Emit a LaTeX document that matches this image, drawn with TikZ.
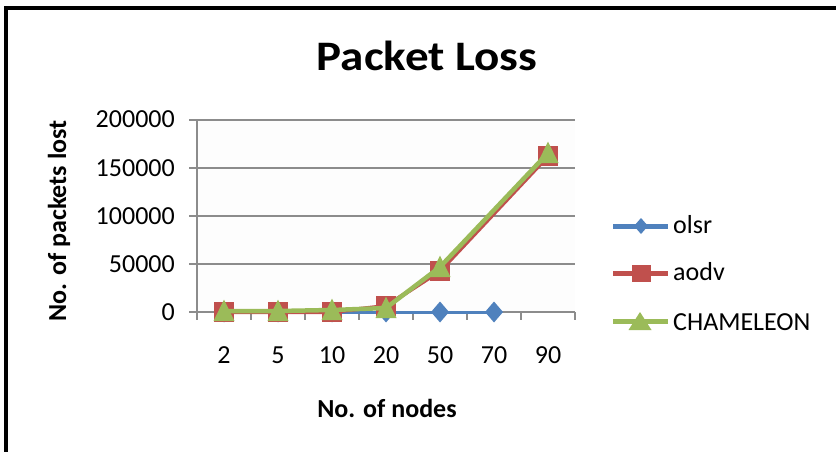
\documentclass[tikz,border=0pt]{standalone}
\usepackage{fontspec}
\usepackage{graphicx}
\setmainfont{Carlito}
\definecolor{olsrc}{HTML}{4F81BD}
\definecolor{aodvc}{HTML}{C0504D}
\definecolor{chamc}{HTML}{9BBB59}
\definecolor{gridc}{HTML}{8C8C8C}
\definecolor{plotbg}{HTML}{FDFDFD}
\begin{document}
\begin{tikzpicture}[x=1pt,y=-1pt,
  frameline/.style={line width=3.5pt,black},
  gridline/.style={gridc,line width=1.2pt},
  axisline/.style={gridc,line width=1.2pt},
  ticklab/.style={font=\fontsize{26}{30}\selectfont,inner sep=0pt},
  axtitle/.style={font=\fontsize{26}{30}\selectfont\bfseries,inner sep=0pt},
  titlestyle/.style={font=\fontsize{42}{50}\selectfont\bfseries,inner sep=0pt},
  olsrline/.style={olsrc,line width=3pt,line join=round},
  aodvline/.style={aodvc,line width=4pt,line join=round},
  chamline/.style={chamc,line width=4.5pt,line join=round},
  legline/.style={line width=5pt},
  dia/.pic={\fill[olsrc] (0,-10.5) -- (9,0) -- (0,10.5) -- (-9,0) -- cycle;},
  sqr/.pic={\fill[aodvc] (-10,-10) rectangle (10,10);},
  tri/.pic={\fill[chamc] (0,-11.5) -- (10.5,10) -- (-10.5,10) -- cycle;},
  ldia/.pic={\fill[olsrc] (0,-8) -- (7,0) -- (0,8) -- (-7,0) -- cycle;},
  lsqr/.pic={\fill[aodvc] (-9.5,-8.5) rectangle (9.5,8.5);},
  ltri/.pic={\fill[chamc] (0,-9) -- (11.5,9) -- (-11.5,9) -- cycle;}
]
\useasboundingbox (0,0) rectangle (836,452);
\fill[white] (0,0) rectangle (836,452);
% frame
\draw[frameline] (6,452) -- (6,8) -- (836,8);

% title
\node[titlestyle,anchor=base] (title) at (427,71) {\scalebox{1.12}[1]{Packet Loss}};

% plot area
\fill[plotbg] (197,120) rectangle (575,312);
\foreach \y in {120,168,216,264} \draw[gridline] (189,\y) -- (575,\y);
\draw[axisline] (197,120) -- (197,312);
\draw[axisline] (189,312) -- (575,312);
\foreach \x in {197,251,...,575} \draw[axisline] (\x,312) -- (\x,320);

% y tick labels
\foreach \v/\y in {0/312,50000/264,100000/216,150000/168,200000/120}
  \node[ticklab,anchor=base east] (yl\v) at (175,\y+8) {\v};

% x tick labels
\foreach \c/\x in {2/224,5/278,10/332,20/386,50/440,70/494,90/548}
  \node[ticklab,anchor=base] (xl\c) at (\x,363) {\c};

% axis titles
\node[axtitle,anchor=base] (xtitle) at (387,417) {No. of nodes};
\node[axtitle,anchor=base,rotate=90] (ytitle) at (66,221) {No. of packets lost};

% data coordinates
\coordinate (o1) at (224,312); \coordinate (o2) at (278,312);
\coordinate (o3) at (332,312); \coordinate (o4) at (386,312);
\coordinate (o5) at (440,312); \coordinate (o6) at (494,312);

\coordinate (a1) at (224,312); \coordinate (a2) at (278,312);
\coordinate (a3) at (332,312); \coordinate (a4) at (386,306);
\coordinate (a5) at (440,271); \coordinate (a7) at (548,156);

\coordinate (c1) at (224,311); \coordinate (c2) at (278,311);
\coordinate (c3) at (332,310); \coordinate (c4) at (386,308);
\coordinate (c5) at (440,267); \coordinate (c7) at (548,153);

% olsr
\draw[olsrline] (o1) -- (o2) -- (o3) -- (o4) -- (o5) -- (o6);
\foreach \p in {o1,o2,o3,o4,o5,o6} \pic at (\p) {dia};
% aodv
\draw[aodvline] (a1) -- (a2) -- (a3) -- (a4) -- (a5) -- (a7);
\foreach \p in {a1,a2,a3,a4,a5,a7} \pic at (\p) {sqr};
% CHAMELEON
\draw[chamline] (c1) -- (c2) -- (c3) -- (c4) -- (c5) -- (c7);
\foreach \p in {c1,c2,c3,c4,c5,c7} \pic at (\p) {tri};

% legend
\coordinate (lo1) at (613,226); \coordinate (lo2) at (668,226); \coordinate (lom) at (641,226);
\coordinate (la1) at (613,273); \coordinate (la2) at (668,273); \coordinate (lam) at (641,273);
\coordinate (lc1) at (613,321); \coordinate (lc2) at (668,321); \coordinate (lcm) at (640,321);
\draw[legline,olsrc] (lo1) -- (lo2); \pic at (lom) {ldia};
\draw[legline,aodvc] (la1) -- (la2); \pic at (lam) {lsqr};
\draw[legline,chamc] (lc1) -- (lc2); \pic at (lcm) {ltri};
\node[ticklab,anchor=base west] (lolsr) at (673,233) {olsr};
\node[ticklab,anchor=base west] (laodv) at (673,280) {aodv};
\node[ticklab,anchor=base west] (lcham) at (673,330) {CHAMELEON};
\end{tikzpicture}
\end{document}
